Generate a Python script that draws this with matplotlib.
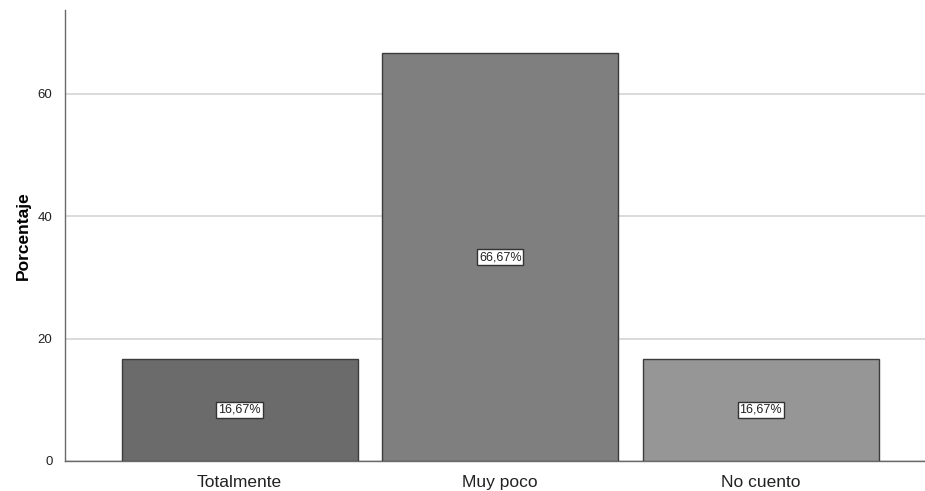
import matplotlib.pyplot as plt

plt.rcParams["font.family"] = ["Liberation Sans", "DejaVu Sans"]

categories = ["Totalmente", "Muy poco", "No cuento"]
percentages = [16.67, 66.67, 16.67]
bar_colors = ["#6b6b6b", "#7f7f7f", "#969696"]
y_ticks = [0, 20, 40, 60]

fig = plt.figure(figsize=(9.25, 4.91), dpi=100)
ax = fig.add_axes([0.0703, 0.0611, 0.9297, 0.9185])

x = list(range(len(categories)))
ax.bar(x, percentages, width=0.906, color=bar_colors, edgecolor="#3c3c3c",
       linewidth=1.0, zorder=3)

for xi, val in zip(x, percentages):
    ax.text(xi, val / 2, f"{val:.2f}%".replace(".", ","), ha="center", va="center",
            fontsize=9, color="#222222", zorder=4,
            bbox=dict(boxstyle="square,pad=0.15", facecolor="white",
                      edgecolor="#333333", linewidth=1.0))

ax.set_xlim(-0.67, 2.63)
ax.set_ylim(0, 73.7)
ax.set_yticks(y_ticks)
ax.set_xticks(x)
ax.set_xticklabels(categories, fontsize=12.5, color="#222222")
ax.tick_params(axis="y", labelsize=9.5, length=0, pad=9, colors="#222222")
ax.tick_params(axis="x", length=0, pad=10)
ax.yaxis.grid(True, color="#d4d4d4", linewidth=1.2, zorder=0)
ax.set_axisbelow(True)
ax.set_ylabel("Porcentaje", fontsize=12.5, fontweight="bold", labelpad=5)

for side in ["top", "right"]:
    ax.spines[side].set_visible(False)
for side in ["left", "bottom"]:
    ax.spines[side].set_color("#6a6a6a")
    ax.spines[side].set_linewidth(1.0)

fig.savefig("out.png", dpi=100)
